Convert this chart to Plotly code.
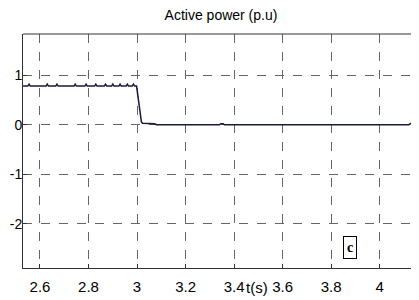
import plotly.graph_objects as go

# data
time_s = [2.53, 2.55, 2.555, 2.56, 2.625, 2.63, 2.635, 2.665, 2.67, 2.675,
          2.74, 2.745, 2.75, 2.785, 2.79, 2.795, 2.825, 2.83, 2.835, 2.865,
          2.87, 2.875, 2.895, 2.90, 2.905, 2.925, 2.93, 2.935, 2.955, 2.96,
          2.965, 2.98, 2.985, 2.99, 2.998, 3.005, 3.012, 3.018, 3.022, 3.05,
          3.072, 3.08, 3.34, 3.345, 3.355, 3.36, 4.12, 4.13, 4.15, 4.17]
power_pu = [0.78, 0.78, 0.82, 0.78, 0.78, 0.82, 0.78, 0.78, 0.82, 0.78,
            0.78, 0.82, 0.78, 0.78, 0.82, 0.78, 0.78, 0.82, 0.78, 0.78,
            0.82, 0.78, 0.78, 0.82, 0.78, 0.78, 0.82, 0.78, 0.78, 0.82,
            0.78, 0.78, 0.82, 0.78, 0.78, 0.55, 0.25, 0.06, 0.03, 0.03,
            0.02, 0.0, 0.0, 0.02, 0.02, 0.0, 0.0, 0.03, 0.01, 0.01]

x_ticks = [2.6, 2.8, 3.0, 3.2, 3.4, 3.6, 3.8, 4.0]
x_tick_labels = ["2.6", "2.8", "3", "3.2", "3.4", "3.6", "3.8", "4"]
y_ticks = [-2, -1, 0, 1]
y_tick_labels = ["-2", "-1", "0", "1"]

font_family = "Liberation Sans, Arial, sans-serif"

# the page body has an 8px margin, so the figure is placed at (8, 8)
OFF = 8
W, H = 419 - OFF, 300 - OFF
L, T = 23 - OFF, 34 - OFF
BOTTOM = 268 - OFF
B = H - BOTTOM
PW, PH = W - L, BOTTOM - T

fig = go.Figure()
fig.add_trace(go.Scatter(x=time_s, y=power_pu, mode="lines",
                         line=dict(color="#1a1a3a", width=1.5),
                         showlegend=False, hoverinfo="skip"))

fig.update_layout(
    width=W, height=H,
    margin=dict(l=L, r=0, t=T, b=B, autoexpand=False),
    paper_bgcolor="white", plot_bgcolor="white",
    title=dict(text="Active power (p.u)", x=(221 - OFF) / W, xanchor="center",
               y=1 - (15 - OFF) / H, yanchor="middle",
               font=dict(family=font_family, size=14, color="black")),
    font=dict(family=font_family, size=15, color="black"),
    xaxis=dict(range=[2.53, 4.162], tickvals=x_ticks, ticktext=x_tick_labels,
               showgrid=True, gridcolor="#666", griddash="9px,9px", gridwidth=1,
               showline=True, linecolor="#333", linewidth=1,
               ticks="inside", ticklen=4, tickcolor="#333",
               ticklabelstandoff=5,
               zeroline=False, fixedrange=True, automargin=False),
    yaxis=dict(range=[-2.89, 1.83], tickvals=y_ticks, ticktext=y_tick_labels,
               showgrid=True, gridcolor="#666", griddash="9px,9px", gridwidth=1,
               showline=True, linecolor="#333", linewidth=1,
               ticks="inside", ticklen=4, tickcolor="#333",
               ticklabelstandoff=-3, tickfont=dict(size=14),
               zeroline=False, fixedrange=True, automargin=False),
    shapes=[dict(type="line", xref="paper", yref="paper", x0=0, x1=1, y0=1, y1=1,
                 line=dict(color="#333", width=1))],
    annotations=[
        dict(text="t(s)", xref="paper", yref="paper", x=(257 - 23) / PW,
             y=-(287 - 268) / PH,
             xanchor="center", yanchor="middle", showarrow=False,
             font=dict(family=font_family, size=15, color="black")),
        dict(text="<b>c</b>", xref="paper", yref="paper", x=(350 - 23) / PW,
             y=(268 - 247.5) / PH, xanchor="center", yanchor="middle",
             showarrow=False,
             bordercolor="black", borderwidth=1, borderpad=3, bgcolor="white",
             font=dict(family="Liberation Serif, Times New Roman, serif", size=14,
                       color="black")),
    ],
)

fig.write_html("out.html")
